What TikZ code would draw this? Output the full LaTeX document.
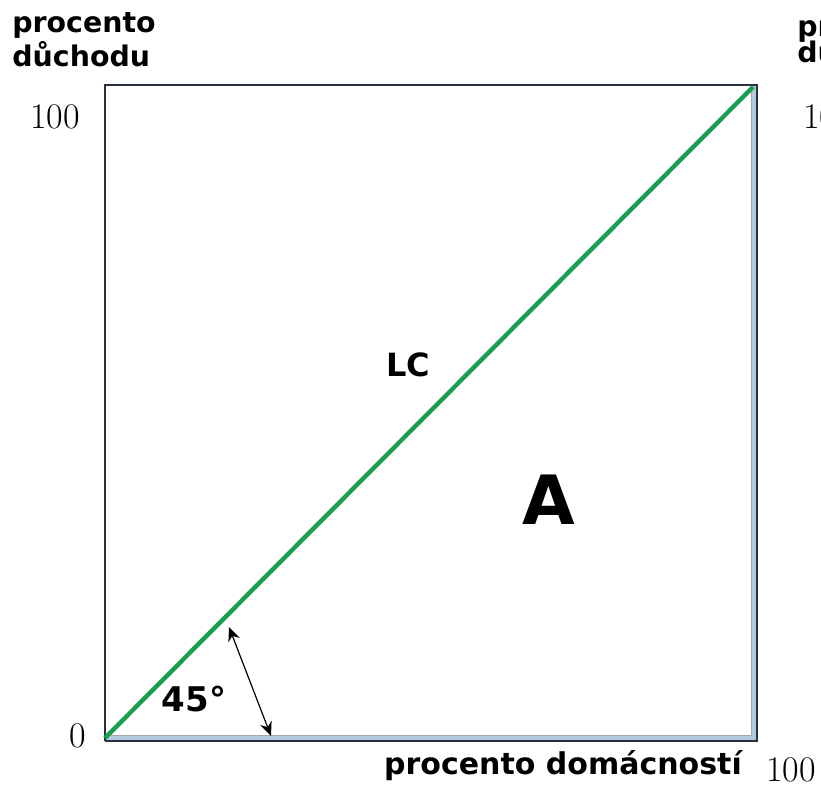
\documentclass[tikz,border=0pt]{standalone}
\usepackage{fontspec}
\newfontfamily\labelfont{DejaVu Sans}
\usetikzlibrary{arrows.meta}
\definecolor{curveGreen}{RGB}{27,158,82}
\definecolor{bandBlue}{RGB}{178,202,222}
\definecolor{edgeDark}{RGB}{40,48,62}

\begin{document}
\begin{tikzpicture}
[x=0.5pt,y=0.5pt,
  numDecorate/.style={anchor=base,inner sep=0pt,font=\fontsize{18}{20}\selectfont},%
  textDecorate/.style={anchor=base west,inner sep=0pt,font=\labelfont\bfseries\fontsize{14.2}{16}\selectfont},%
  markDecorate/.style={anchor=base,inner sep=0pt,font=\labelfont\bfseries},%
  lineDecorate/.style={-,line width=1pt,draw=edgeDark},%
  curveDecorate/.style={-,line width=2.2pt,draw=curveGreen},%
  angleDecorate/.style={{Stealth[length=7pt,width=6pt]}-{Stealth[length=7pt,width=6pt]},line width=0.6pt}]
\useasboundingbox (0,0) rectangle (821,788);
%% corners of the square
\coordinate (o) at (105,50);
\coordinate (tl) at (105,703);
\coordinate (tr) at (757,703);
\coordinate (br) at (757,47);
\coordinate (bl) at (105,47);
\coordinate (top) at (753,701);
%% shaded edges
\fill[bandBlue] (bl) rectangle (757,53);
\fill[bandBlue] (751,47) rectangle (tr);
\draw[gray!70,line width=0.3pt] (105,53) -- (751,53) -- (751,703);
%% frame
\draw[lineDecorate] (bl) -- (tl) -- (tr) -- (br) -- (bl);
%% Lorenz curve
\draw[curveDecorate] (o) -- (top);
%% 45 degree mark
\coordinate (a1) at (229,161);
\coordinate (a2) at (271,52);
\draw[angleDecorate] (a1) -- (a2);
%% numbers
\foreach \nodename/\x/\y/\txt in {ymax/55/659/100, zero/78/40/0, xmax/791/6/100} {
  \node (\nodename) at (\x,\y) [numDecorate] {\txt};
}
\node (ymaxR) at (803,659) [numDecorate,anchor=base west] {100};
%% axis labels
\foreach \nodename/\x/\y/\txt in {ylabA/12/755/procento, ylabB/12/721/důchodu,
    ylabC/797/751/procento, ylabD/797/725/důchodu} {
  \node (\nodename) at (\x,\y) [textDecorate] {\txt};
}
\node (xlab) at (563,13) [markDecorate,font=\labelfont\bfseries\fontsize{15}{17}\selectfont] {procento domácností};
%% marks in the square
\node (lc) at (408,411) [markDecorate,font=\labelfont\bfseries\fontsize{16}{18}\selectfont] {LC};
\node (area) at (549,263) [markDecorate,font=\labelfont\bfseries\fontsize{34}{36}\selectfont] {A};
\node (angle) at (194,76) [markDecorate,font=\labelfont\bfseries\fontsize{17}{19}\selectfont] {45°};
\end{tikzpicture}
\end{document}
